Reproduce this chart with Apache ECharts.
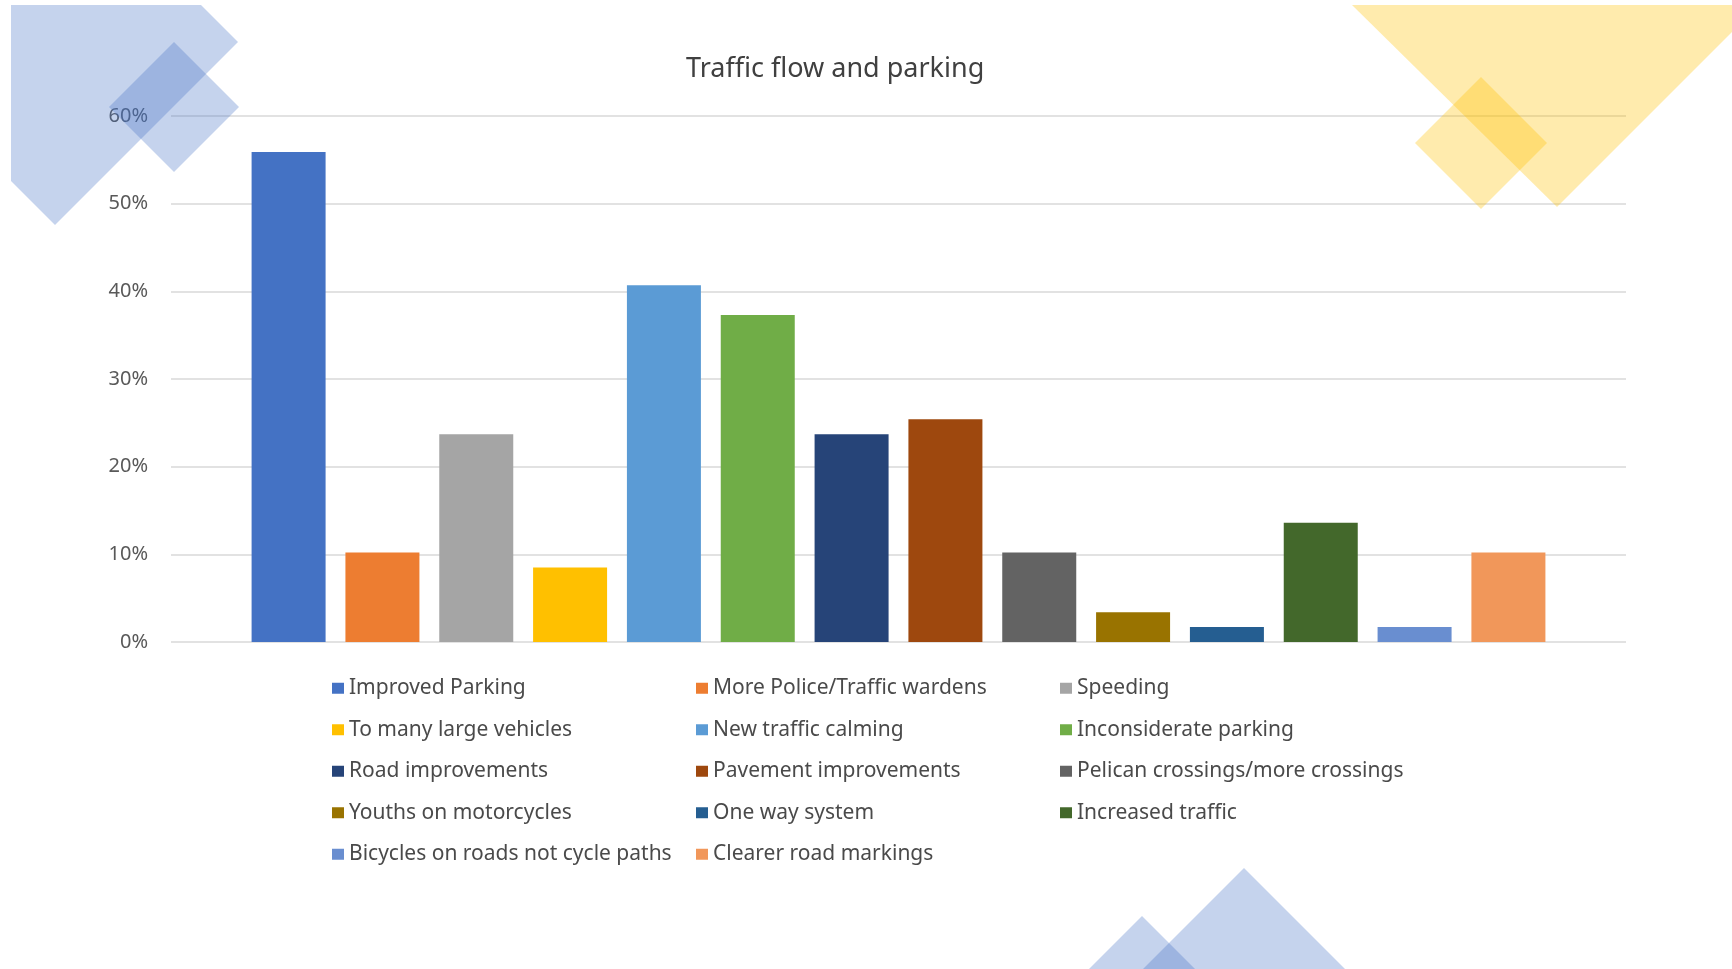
<!DOCTYPE html>
<html>
<head>
<meta charset="utf-8">
<title>Traffic flow and parking</title>
<script src="https://cdn.jsdelivr.net/npm/echarts@6/dist/echarts.min.js"></script>
<style>
  html, body { margin: 0; padding: 0; background: #fff; }
  #main { width: 1732px; height: 969px; }
</style>
</head>
<body>
<div id="main"></div>
<script>
// survey answers, one bar each
var answers = [
    'Improved Parking', 'More Police/Traffic wardens', 'Speeding',
    'To many large vehicles', 'New traffic calming', 'Inconsiderate parking',
    'Road improvements', 'Pavement improvements', 'Pelican crossings/more crossings',
    'Youths on motorcycles', 'One way system', 'Increased traffic',
    'Bicycles on roads not cycle paths', 'Clearer road markings'
];
var shares = [55.9, 10.2, 23.7, 8.5, 40.7, 37.3, 23.7, 25.4, 10.2, 3.4, 1.7, 13.6, 1.7, 10.2];
var yTicks = [0, 10, 20, 30, 40, 50, 60];

var palette = [
    '#4472C4', '#ED7D31', '#A5A5A5', '#FFC000', '#5B9BD5', '#70AD47', '#264478',
    '#9E480E', '#636363', '#997300', '#255E91', '#43682B', '#698ED0', '#F1975A'
];

var chartDom = document.getElementById('main');
var myChart = echarts.init(chartDom);
var option;

var series = answers.map(function (name, i) {
    return {
        name: name,
        type: 'bar',
        barWidth: 74,
        barGap: '26.8%',
        data: [shares[i]],
        itemStyle: { color: palette[i] }
    };
});

var blue = 'rgba(68,114,196,0.31)';
var yellow = 'rgba(255,192,0,0.32)';

option = {
    animation: false,
    backgroundColor: '#fff',
    color: palette,
    textStyle: { fontFamily: 'Noto Sans' },
    title: {
        text: 'Traffic flow and parking',
        left: 681,
        top: 51,
        textStyle: { color: '#404040', fontSize: 27, fontWeight: 'normal' }
    },
    grid: { left: 171, right: 106, top: 116, bottom: 327 },
    xAxis: {
        type: 'category',
        data: [''],
        axisLine: { show: false },
        axisTick: { show: false },
        axisLabel: { show: false }
    },
    yAxis: {
        type: 'value',
        min: yTicks[0],
        max: yTicks[yTicks.length - 1],
        interval: 10,
        axisLabel: {
            formatter: '{value}%',
            color: '#595959',
            fontSize: 20,
            margin: 23
        },
        splitLine: { lineStyle: { color: '#D9D9D9', width: 1.5 } }
    },
    legend: {
        left: 327,
        top: 665,
        width: 1100,
        itemWidth: 12,
        itemHeight: 11,
        itemGap: 5,
        icon: 'rect',
        data: answers,
        textStyle: {
            color: '#4a4a4a',
            fontSize: 21,
            width: 342,
            lineHeight: 36.5
        }
    },
    graphic: [
        // top-left blue diamonds
        { type: 'polygon', z: 100, silent: true,
          shape: { points: [[11, 5], [201, 5], [238, 42], [55, 225], [11, 181]] },
          style: { fill: blue } },
        { type: 'polygon', z: 101, silent: true,
          shape: { points: [[174, 42], [239, 107], [174, 172], [109, 107]] },
          style: { fill: blue } },
        // top-right yellow shapes
        { type: 'polygon', z: 100, silent: true,
          shape: { points: [[1352, 5], [1732, 5], [1732, 32], [1557, 207]] },
          style: { fill: yellow } },
        { type: 'polygon', z: 101, silent: true,
          shape: { points: [[1481, 77], [1547, 143], [1481, 209], [1415, 143]] },
          style: { fill: yellow } },
        // bottom blue triangles
        { type: 'polygon', z: 100, silent: true,
          shape: { points: [[1244, 868], [1345, 969], [1143, 969]] },
          style: { fill: blue } },
        { type: 'polygon', z: 101, silent: true,
          shape: { points: [[1142, 916], [1195, 969], [1089, 969]] },
          style: { fill: blue } }
    ],
    series: series
};

option && myChart.setOption(option);
</script>
</body>
</html>
